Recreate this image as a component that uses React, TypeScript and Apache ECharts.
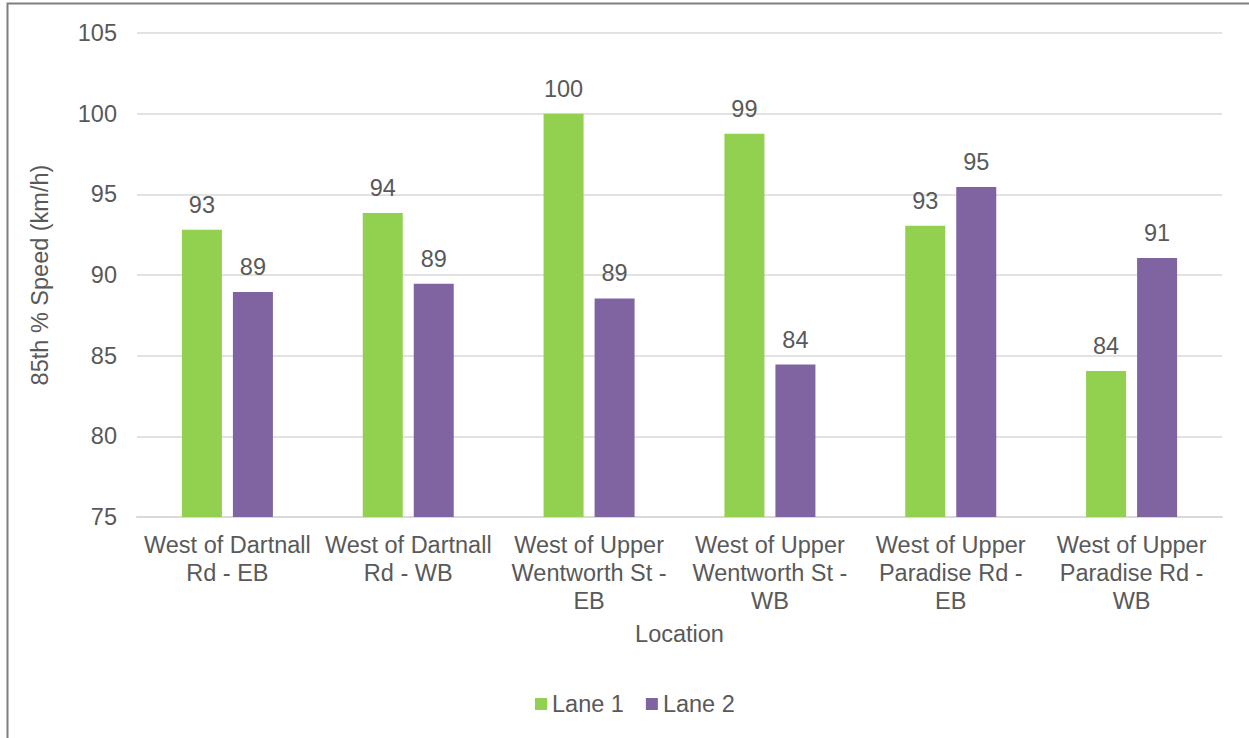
import React, { useEffect, useRef } from "react";
import * as echarts from "echarts";

const categories = [
  "West of Dartnall\nRd - EB",
  "West of Dartnall\nRd - WB",
  "West of Upper\nWentworth St -\nEB",
  "West of Upper\nWentworth St -\nWB",
  "West of Upper\nParadise Rd -\nEB",
  "West of Upper\nParadise Rd -\nWB",
];
const lane1 = [92.8, 93.85, 100.0, 98.75, 93.05, 84.05];
const lane2 = [88.95, 89.45, 88.55, 84.45, 95.45, 91.05];
const seriesNames = ["Lane 1", "Lane 2"];
const colors = ["#92D050", "#8064A2"];

const FONT = "'Liberation Sans', Arial, sans-serif";
const TEXT = "#595959";

export default function App() {
  const ref = useRef<HTMLDivElement>(null);
  useEffect(() => {
    if (!ref.current) return;
    const chart = echarts.init(ref.current, undefined, { renderer: "svg" });
    const labelCfg = {
      show: true,
      position: "top" as const,
      distance: 13,
      color: TEXT,
      fontSize: 23.5,
      fontFamily: FONT,
      formatter: (p: any) => String(Math.round(p.value)),
    };
    chart.setOption({
      animation: false,
      textStyle: { fontFamily: FONT, color: TEXT },
      graphic: [
        {
          type: "rect",
          shape: { x: 7.5, y: 3.5, width: 1300, height: 800 },
          style: { fill: "none", stroke: "#7f7f7f", lineWidth: 2 },
          silent: true,
        },
      ],
      legend: {
        data: seriesNames,
        left: 530,
        top: 687,
        itemWidth: 12,
        itemHeight: 12,
        itemGap: 22,
        icon: "rect",
        textStyle: { color: TEXT, fontSize: 23.5, fontFamily: FONT },
      },
      grid: { left: 137, right: 27, top: 33, bottom: 221, containLabel: false },
      xAxis: {
        type: "category",
        data: categories,
        name: "Location",
        nameLocation: "middle",
        nameGap: 105,
        nameTextStyle: { color: TEXT, fontSize: 23.5, fontFamily: FONT },
        axisLine: { show: true, lineStyle: { color: "#d9d9d9", width: 2 } },
        axisTick: { show: false },
        axisLabel: {
          color: TEXT,
          fontSize: 23.5,
          fontFamily: FONT,
          lineHeight: 28,
          margin: 14,
          interval: 0,
        },
      },
      yAxis: {
        type: "value",
        min: 75,
        max: 105,
        interval: 5,
        name: "85th % Speed (km/h)",
        nameLocation: "middle",
        nameGap: 85,
        nameTextStyle: { color: TEXT, fontSize: 23.5, fontFamily: FONT },
        axisLine: { show: false },
        axisTick: { show: false },
        axisLabel: { color: TEXT, fontSize: 23.5, fontFamily: FONT, margin: 20 },
        splitLine: { lineStyle: { color: "#d9d9d9", width: 1.5 } },
      },
      series: [
        {
          name: seriesNames[0],
          type: "bar",
          data: lane1,
          barWidth: 40,
          barGap: "27.5%",
          itemStyle: { color: colors[0] },
          label: labelCfg,
        },
        {
          name: seriesNames[1],
          type: "bar",
          data: lane2,
          barWidth: 40,
          barGap: "27.5%",
          itemStyle: { color: colors[1] },
          label: labelCfg,
        },
      ],
    });
    return () => chart.dispose();
  }, []);
  return (
    <div
      ref={ref}
      style={{ position: "fixed", left: 0, top: 0, width: 1249, height: 738, background: "#fff" }}
    />
  );
}
